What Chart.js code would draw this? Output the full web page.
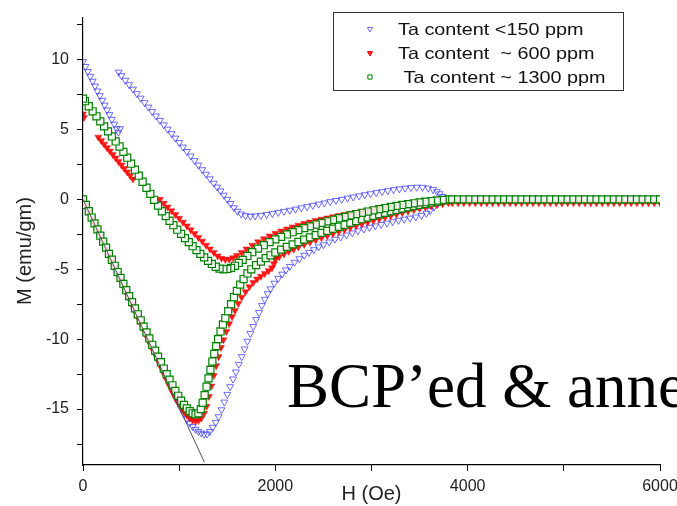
<!DOCTYPE html>
<html>
<head>
<meta charset="utf-8">
<script src="https://cdn.jsdelivr.net/npm/chart.js@4.4.1/dist/chart.umd.min.js"></script>
<style>
  body { margin: 0; background: #fff; }
  #wrap { width: 677px; height: 506px; }
</style>
</head>
<body>
<div id="wrap"><canvas id="chart-mh" width="677" height="506"></canvas></div>
<script>
// M(H) loops, field in Oe, magnetisation in emu/gm. Each branch is [H, M].
const blueVirgin = [
  [0,0],[30,-0.45],[60,-0.9],[90,-1.3],[120,-1.75],[150,-2.2],[180,-2.65],[210,-3.1],[240,-3.5],[270,-3.95],
  [300,-4.4],[330,-4.85],[360,-5.3],[390,-5.75],[420,-6.15],[450,-6.6],[480,-7.05],[510,-7.5],[540,-7.95],[570,-8.35],
  [600,-8.8],[630,-9.25],[660,-9.7],[690,-10.15],[720,-10.6],[750,-11.0],[780,-11.45],[810,-11.9],[840,-12.35],[870,-12.8],
  [900,-13.2],[930,-13.65],[960,-14.1],[990,-14.55],[1020,-14.95],[1050,-15.35],[1080,-15.7],[1110,-16.0],[1140,-16.25],[1170,-16.45],
  [1200,-16.6],[1230,-16.72],[1260,-16.8],[1290,-16.78],[1320,-16.6],[1350,-16.3],[1380,-15.95],[1410,-15.55],[1440,-15.05],[1470,-14.5],
  [1500,-13.95],[1530,-13.4],[1560,-12.85],[1590,-12.35],[1620,-11.8],[1650,-11.25],[1680,-10.7],[1710,-10.15],[1740,-9.6],[1770,-9.1],
  [1800,-8.6],[1830,-8.1],[1860,-7.6],[1890,-7.15],[1920,-6.75],[1950,-6.4],[1990,-6.0],[2030,-5.65],[2070,-5.35],[2110,-5.05],
  [2150,-4.8],[2200,-4.5],[2250,-4.25],[2300,-4.0],[2350,-3.8],[2400,-3.6],[2450,-3.4],[2500,-3.25],[2560,-3.05],[2620,-2.85],
  [2680,-2.7],[2740,-2.55],[2800,-2.4],[2860,-2.25],[2920,-2.12],[2980,-2.0],[3040,-1.9],[3100,-1.8],[3160,-1.7],[3220,-1.6],
  [3280,-1.5],[3340,-1.42],[3400,-1.34],[3460,-1.26],[3520,-1.15],[3570,-1.0],[3610,-0.8],[3650,-0.55],[3690,-0.3],[3730,-0.1],
  [3780,0.0]
];
const blueReturn = [
  [3740,0.2],[3710,0.4],[3680,0.55],[3640,0.7],[3590,0.8],[3530,0.86],[3470,0.87],[3410,0.84],[3350,0.8],[3290,0.75],
  [3230,0.69],[3170,0.62],[3110,0.55],[3050,0.48],[2990,0.4],[2930,0.33],[2870,0.25],[2810,0.17],[2750,0.09],[2690,0.0],
  [2630,-0.08],[2570,-0.17],[2510,-0.26],[2450,-0.34],[2390,-0.43],[2330,-0.52],[2270,-0.61],[2210,-0.7],[2150,-0.78],[2090,-0.86],
  [2030,-0.94],[1970,-1.02],[1910,-1.09],[1850,-1.15],[1790,-1.19],[1740,-1.21],[1690,-1.17],[1645,-1.05],[1605,-0.85],[1570,-0.6],
  [1535,-0.3],[1500,0.0],[1465,0.3],[1430,0.6],[1395,0.88],[1360,1.15],[1320,1.47],[1280,1.8],[1240,2.12],[1200,2.45],
  [1160,2.77],[1120,3.1],[1080,3.42],[1040,3.74],[1000,4.06],[960,4.38],[920,4.7],[880,5.02],[840,5.33],[800,5.65],
  [760,5.96],[720,6.28],[680,6.6],[640,6.92],[600,7.24],[560,7.56],[520,7.88],[480,8.2],[440,8.52],[400,8.85],[370,9.1]
];
const blueLowField = [
  [0,9.85],[25,9.5],[50,9.15],[75,8.8],[100,8.45],[125,8.1],[150,7.75],[175,7.42],[200,7.08],[225,6.74],
  [250,6.4],[275,6.06],[300,5.72],[325,5.38],[350,5.05],[368,4.8],[385,5.05]
];

const redVirgin = [
  [0,0],[30,-0.45],[60,-0.9],[90,-1.35],[120,-1.8],[150,-2.25],[180,-2.7],[210,-3.1],[240,-3.55],[270,-4.0],
  [300,-4.45],[330,-4.9],[360,-5.35],[390,-5.8],[420,-6.25],[450,-6.7],[480,-7.1],[510,-7.55],[540,-8.0],[570,-8.45],
  [600,-8.9],[630,-9.35],[660,-9.8],[690,-10.25],[720,-10.7],[750,-11.1],[780,-11.55],[810,-12.0],[840,-12.45],[870,-12.9],
  [900,-13.35],[930,-13.8],[960,-14.2],[990,-14.55],[1020,-14.9],[1050,-15.2],[1080,-15.45],[1110,-15.65],[1140,-15.78],[1170,-15.85],
  [1200,-15.82],[1230,-15.65],[1260,-15.3],[1285,-14.8],[1310,-14.1],[1335,-13.35],[1360,-12.6],[1385,-11.9],[1410,-11.25],[1435,-10.6],
  [1460,-10.05],[1490,-9.45],[1520,-8.9],[1550,-8.4],[1580,-7.95],[1615,-7.45],[1650,-7.0],[1690,-6.6],[1730,-6.25],[1770,-5.95],
  [1810,-5.7],[1850,-5.5],[1890,-5.3],[1930,-5.1],[1965,-4.9],[1985,-4.6],[2000,-4.3],[2010,-4.05],[2040,-4.1],[2090,-3.9],
  [2140,-3.72],[2190,-3.56],[2240,-3.4],[2300,-3.22],[2360,-3.06],[2420,-2.9],[2480,-2.75],[2540,-2.6],[2600,-2.45],[2660,-2.3],
  [2720,-2.16],[2780,-2.02],[2840,-1.89],[2900,-1.76],[2960,-1.64],[3020,-1.52],[3080,-1.4],[3140,-1.28],[3200,-1.17],[3260,-1.06],
  [3320,-0.95],[3380,-0.85],[3440,-0.75],[3500,-0.65],[3560,-0.56],[3620,-0.47],[3680,-0.39],[3740,-0.31],[3800,-0.25]
];
const redReturn = [
  [3740,-0.22],[3680,-0.24],[3620,-0.27],[3560,-0.3],[3500,-0.33],[3440,-0.37],[3380,-0.41],[3320,-0.45],[3260,-0.5],[3200,-0.55],
  [3140,-0.6],[3080,-0.66],[3020,-0.72],[2960,-0.79],[2900,-0.86],[2840,-0.93],[2780,-1.0],[2720,-1.08],[2660,-1.16],[2600,-1.24],
  [2540,-1.33],[2480,-1.42],[2420,-1.52],[2360,-1.62],[2300,-1.73],[2240,-1.85],[2180,-1.98],[2120,-2.12],[2060,-2.27],[2000,-2.43],
  [1940,-2.62],[1880,-2.82],[1820,-3.04],[1760,-3.28],[1700,-3.55],[1650,-3.8],[1600,-4.02],[1560,-4.18],[1520,-4.28],[1480,-4.3],
  [1440,-4.22],[1400,-4.05],[1360,-3.8],[1320,-3.55],[1280,-3.28],[1240,-3.0],[1200,-2.72],[1160,-2.45],[1120,-2.18],[1080,-1.9],
  [1040,-1.63],[1000,-1.36],[960,-1.09],[920,-0.82],[880,-0.55],[840,-0.28],[800,0.0]
];
const redLowField = [
  [520,1.45],[490,1.7],[460,1.95],[430,2.2],[400,2.45],[370,2.7],[340,2.95],[310,3.2],[280,3.45],[250,3.7],
  [220,3.95],[190,4.2],[160,4.45],[10,5.85],[0,6.1]
];

const greenVirgin = [
  [0,0],[30,-0.4],[60,-0.85],[90,-1.3],[120,-1.72],[150,-2.15],[180,-2.6],[210,-3.02],[240,-3.45],[270,-3.9],
  [300,-4.32],[330,-4.75],[360,-5.2],[390,-5.62],[420,-6.05],[450,-6.5],[480,-6.92],[510,-7.35],[540,-7.8],[570,-8.22],
  [600,-8.65],[630,-9.1],[660,-9.52],[690,-9.95],[720,-10.4],[750,-10.82],[780,-11.25],[810,-11.65],[840,-12.1],[870,-12.5],
  [900,-12.9],[930,-13.3],[960,-13.7],[990,-14.05],[1020,-14.4],[1050,-14.7],[1080,-14.95],[1110,-15.15],[1140,-15.3],[1170,-15.38],
  [1200,-15.3],[1225,-15.0],[1245,-14.55],[1265,-14.0],[1285,-13.4],[1305,-12.8],[1325,-12.2],[1345,-11.6],[1365,-11.05],[1385,-10.5],
  [1405,-10.0],[1430,-9.45],[1455,-8.95],[1480,-8.5],[1510,-8.0],[1540,-7.5],[1570,-7.0],[1600,-6.55],[1635,-6.1],[1670,-5.7],
  [1710,-5.3],[1750,-5.0],[1800,-4.7],[1850,-4.45],[1900,-4.2],[1950,-4.0],[2000,-3.8],[2060,-3.6],[2120,-3.4],[2180,-3.22],
  [2240,-3.05],[2300,-2.88],[2360,-2.72],[2420,-2.56],[2480,-2.4],[2540,-2.25],[2600,-2.1],[2660,-1.96],[2720,-1.82],[2780,-1.68],
  [2840,-1.55],[2900,-1.42],[2960,-1.3],[3020,-1.18],[3080,-1.07],[3140,-0.96],[3200,-0.86],[3260,-0.76],[3320,-0.66],[3380,-0.57],
  [3440,-0.48],[3500,-0.4],[3560,-0.32],[3620,-0.24],[3680,-0.16],[3740,-0.08],[3800,0.0]
];
const greenReturn = [
  [3740,-0.04],[3680,-0.08],[3620,-0.12],[3560,-0.17],[3500,-0.22],[3440,-0.28],[3380,-0.34],[3320,-0.4],[3260,-0.47],[3200,-0.54],
  [3140,-0.62],[3080,-0.7],[3020,-0.78],[2960,-0.87],[2900,-0.96],[2840,-1.05],[2780,-1.15],[2720,-1.25],[2660,-1.35],[2600,-1.46],
  [2540,-1.57],[2480,-1.68],[2420,-1.8],[2360,-1.93],[2300,-2.06],[2240,-2.2],[2180,-2.35],[2120,-2.51],[2060,-2.68],[2000,-2.86],
  [1940,-3.06],[1880,-3.28],[1820,-3.52],[1760,-3.78],[1710,-4.05],[1660,-4.33],[1620,-4.55],[1580,-4.75],[1540,-4.9],[1500,-4.98],
  [1460,-5.0],[1420,-4.95],[1380,-4.82],[1340,-4.62],[1300,-4.4],[1260,-4.15],[1220,-3.9],[1180,-3.63],[1140,-3.35],[1100,-3.06],
  [1060,-2.77],[1020,-2.47],[980,-2.17],[940,-1.85],[900,-1.53],[860,-1.2],[820,-0.85],[780,-0.45],[740,-0.03],[700,0.4],
  [660,0.83],[620,1.26],[580,1.69],[540,2.12],[500,2.55],[460,2.98],[420,3.4],[380,3.78],[340,4.14],[300,4.5],
  [260,4.86],[220,5.22],[180,5.58],[140,5.94],[100,6.3],[60,6.66],[20,7.02],[0,7.2]
];

// saturated part above ~3800 Oe, same field steps for all three samples
const flatH = [3840,3900,3960,4020,4080,4140,4200,4260,4320,4380,4440,4500,4560,4620,4680,4740,4800,4860,4920,
  4980,5040,5100,5160,5220,5280,5340,5400,5460,5520,5580,5640,5700,5760,5820,5880,5940,6000];
const blueFlatM = [0,0,0,0,0,0,0,0,0,0,0,0,0,0,0,0,0,0,0,0,0,0,0,0,0,0,0,0,0,0,0,0,0,0,0,0,0];
const redFlatM = [-0.25,-0.25,-0.25,-0.25,-0.25,-0.25,-0.25,-0.25,-0.25,-0.25,-0.25,-0.25,-0.25,-0.25,-0.25,-0.25,-0.25,
  -0.25,-0.25,-0.25,-0.25,-0.25,-0.25,-0.25,-0.25,-0.25,-0.25,-0.25,-0.25,-0.25,-0.25,-0.25,-0.25,-0.25,-0.25,-0.25,-0.25];
const greenFlatM = [0,0,0,0,0,0,0,0,0,0,0,0,0,0,0,0,0,0,0,0,0,0,0,0,0,0,0,0,0,0,0,0,0,0,0,0,0];

// Meissner slope fit
const fitLine = [[0,0],[1262,-18.8]];

const seriesLabels = ['Ta content <150 ppm', 'Ta content  ~ 600 ppm', ' Ta content ~ 1300 ppm'];
const xTickValues = [0,1000,2000,3000,4000,5000,6000];
const yTickValues = [-17.5,-15,-12.5,-10,-7.5,-5,-2.5,0,2.5,5,7.5,10,12.5];

const toPoints = pairs => pairs.map(([h, m]) => ({ x: h, y: m }));
const flatPoints = values => flatH.map((h, i) => ({ x: h, y: values[i] }));

const sansFamily = '"Liberation Sans", Arial, sans-serif';
const tickFont = { family: sansFamily, size: 16 };
const titleFont = { family: sansFamily, size: 20 };

const blueStyle = { pointStyle: 'triangle', rotation: 180, pointRadius: 4, borderWidth: 1,
  borderColor: 'rgba(60,60,255,0.75)', backgroundColor: 'rgba(255,255,255,0)' };
const redStyle = { pointStyle: 'triangle', rotation: 180, pointRadius: 4, borderWidth: 0.5,
  borderColor: 'rgba(255,0,0,0.9)', backgroundColor: 'rgba(255,0,0,0.9)' };
const greenStyle = { pointStyle: 'rect', rotation: 0, pointRadius: 5, borderWidth: 1.2,
  borderColor: 'rgb(0,128,0)', backgroundColor: 'rgba(255,255,255,0.85)' };

// framed legend top right, the y title and the sample note
const annotations = {
  id: 'annotations',
  afterDraw(chart) {
    const ctx = chart.ctx;
    const rows = [blueStyle, redStyle, greenStyle];
    ctx.save();
    ctx.fillStyle = '#fff';
    ctx.fillRect(333.5, 12.5, 290, 78);
    ctx.strokeStyle = '#333';
    ctx.lineWidth = 1;
    ctx.strokeRect(333.5, 12.5, 290, 78);
    rows.forEach((st, i) => {
      const y = 29 + i * 24;
      ctx.fillStyle = st.backgroundColor;
      ctx.strokeStyle = st.borderColor;
      ctx.lineWidth = 1;
      Chart.helpers.drawPoint(ctx, { pointStyle: st.pointStyle, rotation: st.rotation, radius: 3, borderWidth: 1 }, 370, y);
      ctx.save();
      ctx.translate(398, y + 6);
      ctx.scale(1.2, 1);
      ctx.fillStyle = '#111';
      ctx.font = '16.5px ' + sansFamily;
      ctx.textBaseline = 'alphabetic';
      ctx.fillText(seriesLabels[i], 0, 0);
      ctx.restore();
    });

    ctx.save();
    ctx.translate(25.5, 251);
    ctx.rotate(-Math.PI / 2);
    ctx.fillStyle = '#222';
    ctx.font = '20px ' + sansFamily;
    ctx.textAlign = 'center';
    ctx.textBaseline = 'middle';
    ctx.fillText('M (emu/gm)', 0, 0);
    ctx.restore();

    ctx.fillStyle = '#000';
    ctx.font = '63px "Liberation Serif", "Times New Roman", serif';
    ctx.textBaseline = 'alphabetic';
    ctx.fillText('BCP\u2019ed & annealed', 287, 407);
    ctx.restore();
  }
};

new Chart(document.getElementById('chart-mh'), {
  type: 'scatter',
  data: {
    datasets: [
      {
        label: 'fit',
        data: toPoints(fitLine),
        showLine: true,
        borderColor: '#555',
        borderWidth: 1,
        pointRadius: 0,
        order: 0
      },
      {
        label: seriesLabels[2],
        data: [...toPoints(greenVirgin), ...flatPoints(greenFlatM), ...toPoints(greenReturn)],
        ...greenStyle,
        order: 1
      },
      {
        label: seriesLabels[1],
        data: [...toPoints(redVirgin), ...flatPoints(redFlatM), ...toPoints(redReturn), ...toPoints(redLowField)],
        ...redStyle,
        order: 2
      },
      {
        label: seriesLabels[0],
        data: [...toPoints(blueVirgin), ...flatPoints(blueFlatM), ...toPoints(blueReturn), ...toPoints(blueLowField)],
        ...blueStyle,
        order: 3
      }
    ]
  },
  options: {
    responsive: false,
    animation: false,
    devicePixelRatio: 1,
    layout: { padding: { top: 13, right: 17, left: 0, bottom: 0 } },
    plugins: {
      legend: { display: false },
      tooltip: { enabled: false }
    },
    scales: {
      x: {
        type: 'linear',
        min: 0,
        max: 6000,
        afterBuildTicks: axis => { axis.ticks = xTickValues.map(v => ({ value: v })); },
        // let the last label run off the edge instead of shrinking the plot
        afterFit: axis => { axis.height = 41; axis.paddingRight = 0; },
        grid: { drawOnChartArea: false, drawTicks: true, tickLength: 6, tickColor: '#000' },
        border: { color: '#000', width: 1.2 },
        ticks: {
          font: tickFont, color: '#222', padding: 6, maxRotation: 0, autoSkip: false,
          callback: v => (v % 2000 === 0 ? String(v) : '')
        },
        title: { display: true, text: 'H (Oe)', font: titleFont, color: '#222', padding: 0 }
      },
      y: {
        type: 'linear',
        min: -19,
        max: 13,
        afterBuildTicks: axis => { axis.ticks = yTickValues.map(v => ({ value: v })); },
        afterFit: axis => { axis.width = 83; },
        grid: { drawOnChartArea: false, drawTicks: true, tickLength: 6, tickColor: '#000' },
        border: { color: '#000', width: 1.2 },
        ticks: {
          font: tickFont, color: '#222', padding: 8, autoSkip: false,
          callback: v => (v % 5 === 0 ? String(v) : '')
        },
        title: { display: false }
      }
    }
  },
  plugins: [annotations]
});
</script>
</body>
</html>
